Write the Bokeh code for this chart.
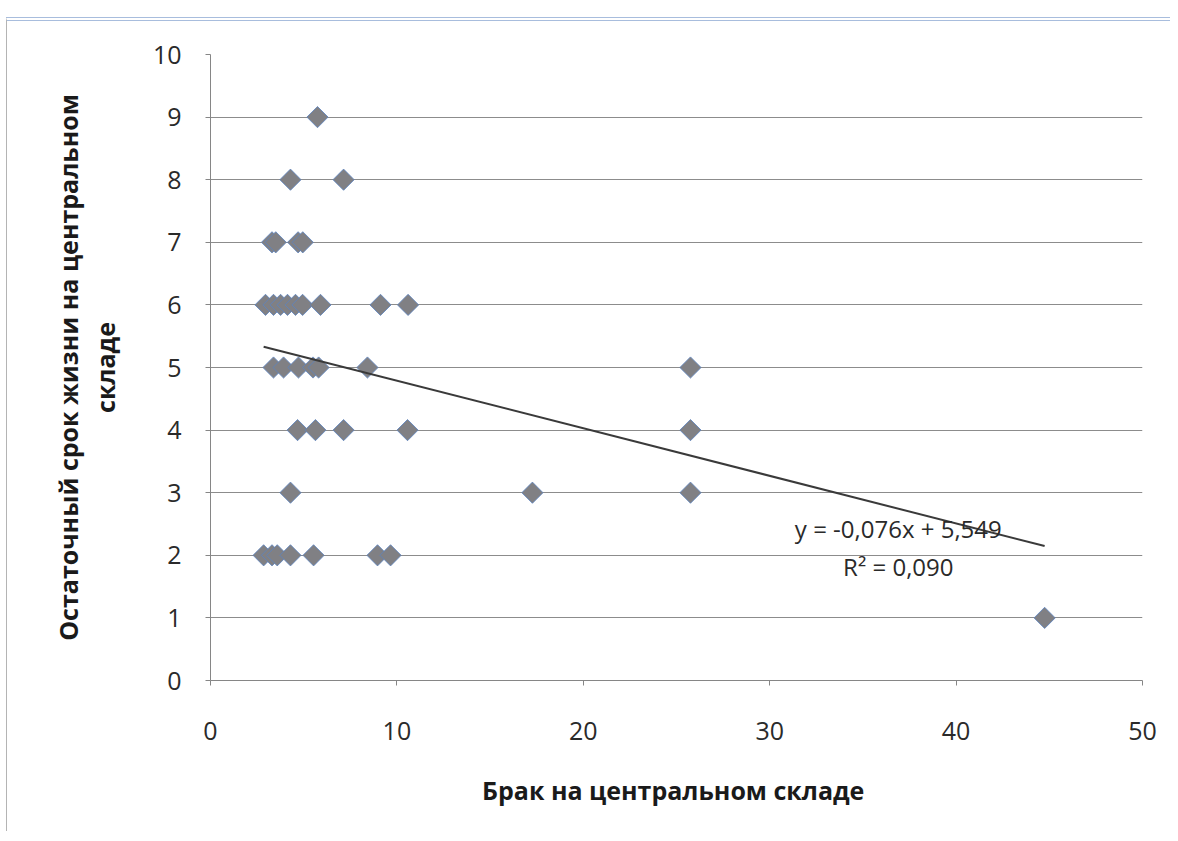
from bokeh.plotting import figure
from bokeh.models import ColumnDataSource, Label, Title, FixedTicker, Range1d
from bokeh.embed import file_html
from bokeh.resources import INLINE
import numpy as np

# ---- data ----
brak = [5.74,
        4.29, 7.14,
        3.30, 3.50, 4.70, 4.95,
        2.95, 3.38, 3.76, 4.13, 4.56, 4.94, 5.90, 9.12, 10.60,
        3.38, 3.92, 4.72, 5.50, 5.80, 8.42, 25.75,
        4.67, 5.63, 7.14, 10.57, 25.75,
        4.29, 17.27, 25.75,
        2.85, 3.30, 3.58, 4.29, 5.53, 8.96, 9.66,
        44.75]
srok = [9,
        8, 8,
        7, 7, 7, 7,
        6, 6, 6, 6, 6, 6, 6, 6, 6,
        5, 5, 5, 5, 5, 5, 5,
        4, 4, 4, 4, 4,
        3, 3, 3,
        2, 2, 2, 2, 2, 2, 2,
        1]
slope = -0.076
intercept = 5.549
r2 = 0.090
x_ticks = [0, 10, 20, 30, 40, 50]
y_ticks = [0, 1, 2, 3, 4, 5, 6, 7, 8, 9, 10]
x_title = "Брак на центральном  складе"
y_title_line1 = "Остаточный срок жизни на центральном"
y_title_line2 = "складе"
eq_text = "y = -0,076x + 5,549"
r2_text = "R² = 0,090"

FONT = "Open Sans"

p = figure(width=1164, height=814, output_backend="svg", toolbar_location=None,
           x_range=Range1d(0, 50), y_range=Range1d(0, 10),
           min_border_left=203, min_border_right=29, min_border_top=33,
           min_border_bottom=155, background_fill_color="white",
           border_fill_color="white")
p.outline_line_color = None
p.styles = {"margin-top": "17px", "margin-left": "6px",
            "border-top": "4px double #a8bddd",
            "border-left": "1px solid #b4b4b4"}

# axes
p.xaxis.ticker = FixedTicker(ticks=x_ticks)
p.yaxis.ticker = FixedTicker(ticks=y_ticks)
for ax in (p.xaxis[0], p.yaxis[0]):
    ax.axis_line_color = "#868686"
    ax.axis_line_width = 1
    ax.major_tick_line_color = "#868686"
    ax.major_tick_out = 5
    ax.major_tick_in = 0
    ax.minor_tick_line_color = None
    ax.major_label_text_font = FONT
    ax.major_label_text_font_size = "25px"
    ax.major_label_text_color = "#2a2a2a"
    ax.axis_label_text_font = FONT
    ax.axis_label_text_font_style = "bold"
    ax.axis_label_text_font_size = "25px"
    ax.axis_label_text_color = "#1a1a1a"
p.xaxis.major_label_standoff = 36
p.yaxis.major_label_standoff = 24
p.xaxis.axis_label = x_title
p.xaxis.axis_label_standoff = 30
p.yaxis.axis_label = y_title_line2
p.yaxis.axis_label_standoff = 28

p.add_layout(Title(text=y_title_line1, align="center", text_font=FONT,
                   text_font_size="25px", text_font_style="bold",
                   text_color="#1a1a1a", standoff=0), "left")

# grid
p.xgrid.grid_line_color = None
p.ygrid.grid_line_color = "#8c8c8c"
p.ygrid.grid_line_width = 1

# points
src = ColumnDataSource(dict(x=brak, y=srok))
p.scatter("x", "y", source=src, marker="square", angle=np.pi / 4, size=15,
          fill_color="#808084", line_color="#5b83c0", line_width=1, line_alpha=0.8)

# trend line
xt = [min(brak), max(brak)]
yt = [slope * v + intercept for v in xt]
p.line(xt, yt, line_color="#3a3a3a", line_width=2)

# equation labels
p.add_layout(Label(x=36.9, y=2.43, text=eq_text, text_align="center",
                   text_baseline="middle",
                   text_font=FONT, text_font_size="24px", text_color="#2a2a2a"))
p.add_layout(Label(x=36.9, y=1.82, text=r2_text, text_align="center",
                   text_baseline="middle",
                   text_font=FONT, text_font_size="24px", text_color="#2a2a2a"))

open("out.html", "w").write(file_html(p, INLINE))
